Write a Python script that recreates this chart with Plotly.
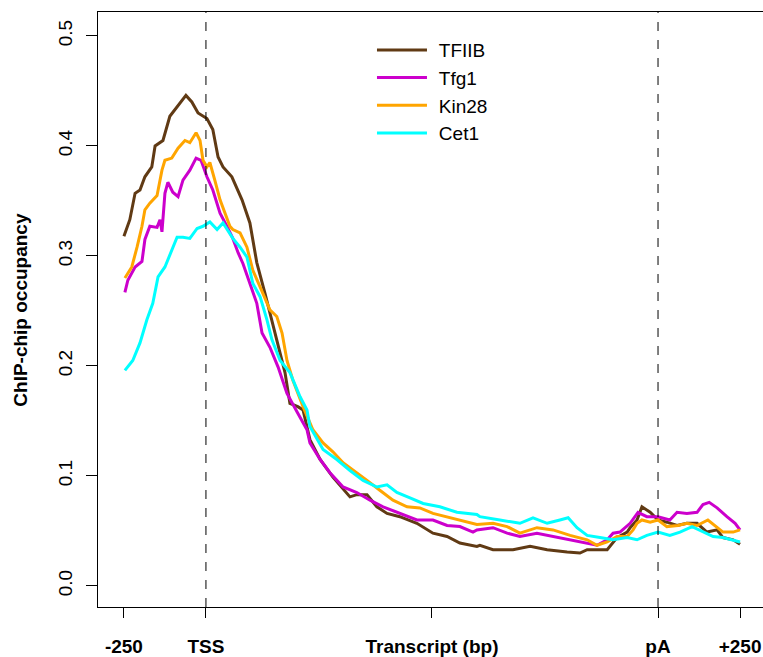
import plotly.graph_objects as go

PA = 1378  # scaled transcript end (pA) on the x axis

tfiib_x = [-250, -232, -216, -201, -186, -165, -155, -131, -110, -88, -61, -43, -24, 3, 21, 37, 52, 79, 104, 110, 134, 155, 180, 195, 216, 241, 256, 280, 296, 317, 348, 387, 439, 460, 491, 521, 552, 591, 643, 692, 735, 774, 826, 835, 875, 936, 988, 1040, 1101, 1140, 1162, 1223, 1253, 1284, 1293, 1314, 1329, 1354, 1378, 1405, 1436, 1466, 1497, 1527, 1558, 1576, 1607, 1628]
tfiib_y = [0.318, 0.333, 0.357, 0.360, 0.372, 0.381, 0.400, 0.405, 0.427, 0.436, 0.446, 0.440, 0.430, 0.425, 0.415, 0.390, 0.381, 0.372, 0.354, 0.351, 0.330, 0.294, 0.266, 0.248, 0.224, 0.194, 0.166, 0.163, 0.160, 0.133, 0.115, 0.099, 0.081, 0.083, 0.083, 0.072, 0.066, 0.063, 0.057, 0.048, 0.045, 0.039, 0.036, 0.037, 0.033, 0.033, 0.036, 0.033, 0.031, 0.030, 0.033, 0.033, 0.044, 0.049, 0.053, 0.060, 0.072, 0.067, 0.060, 0.058, 0.055, 0.057, 0.057, 0.049, 0.051, 0.044, 0.042, 0.038]

tfg1_x = [-247, -238, -216, -195, -186, -171, -149, -140, -134, -125, -116, -101, -85, -70, -49, -30, -15, 3, 21, 43, 64, 82, 98, 113, 134, 155, 171, 195, 220, 247, 280, 308, 317, 348, 378, 418, 460, 500, 540, 591, 643, 692, 735, 774, 814, 826, 875, 918, 957, 1009, 1058, 1110, 1162, 1192, 1223, 1241, 1262, 1293, 1317, 1344, 1378, 1414, 1436, 1466, 1497, 1515, 1534, 1558, 1588, 1613, 1628]
tfg1_y = [0.267, 0.278, 0.290, 0.295, 0.315, 0.327, 0.326, 0.333, 0.322, 0.357, 0.367, 0.358, 0.354, 0.369, 0.378, 0.389, 0.387, 0.372, 0.360, 0.339, 0.327, 0.316, 0.303, 0.293, 0.275, 0.257, 0.230, 0.217, 0.199, 0.175, 0.157, 0.142, 0.130, 0.115, 0.103, 0.090, 0.085, 0.078, 0.072, 0.066, 0.060, 0.060, 0.055, 0.054, 0.049, 0.051, 0.053, 0.048, 0.045, 0.048, 0.045, 0.042, 0.039, 0.037, 0.042, 0.048, 0.049, 0.057, 0.067, 0.063, 0.063, 0.060, 0.067, 0.066, 0.067, 0.074, 0.076, 0.071, 0.063, 0.057, 0.051]

kin28_x = [-247, -226, -210, -195, -186, -171, -149, -134, -125, -104, -85, -64, -49, -30, -18, -9, 3, 12, 27, 43, 58, 73, 82, 104, 125, 143, 165, 195, 216, 232, 247, 265, 296, 326, 357, 387, 418, 460, 491, 530, 570, 613, 652, 692, 735, 774, 826, 875, 918, 957, 1009, 1058, 1110, 1162, 1192, 1223, 1253, 1284, 1302, 1314, 1329, 1354, 1378, 1405, 1439, 1466, 1497, 1530, 1552, 1576, 1607, 1628]
kin28_y = [0.280, 0.290, 0.308, 0.327, 0.342, 0.348, 0.355, 0.378, 0.387, 0.389, 0.398, 0.405, 0.403, 0.412, 0.405, 0.387, 0.381, 0.385, 0.369, 0.351, 0.339, 0.327, 0.324, 0.321, 0.308, 0.287, 0.272, 0.251, 0.245, 0.230, 0.205, 0.187, 0.163, 0.142, 0.130, 0.122, 0.112, 0.103, 0.096, 0.087, 0.078, 0.072, 0.071, 0.066, 0.063, 0.060, 0.056, 0.057, 0.054, 0.048, 0.053, 0.051, 0.046, 0.042, 0.037, 0.040, 0.045, 0.045, 0.051, 0.057, 0.060, 0.058, 0.060, 0.054, 0.055, 0.057, 0.055, 0.060, 0.055, 0.049, 0.049, 0.051]

cet1_x = [-247, -223, -201, -180, -162, -146, -125, -104, -88, -70, -49, -27, -9, 12, 34, 52, 73, 82, 104, 125, 143, 165, 186, 201, 226, 256, 287, 308, 317, 357, 399, 439, 479, 521, 552, 582, 622, 662, 713, 765, 826, 835, 896, 957, 997, 1040, 1079, 1104, 1131, 1162, 1201, 1241, 1284, 1314, 1344, 1378, 1414, 1445, 1482, 1515, 1546, 1576, 1607, 1628]
cet1_y = [0.196, 0.205, 0.221, 0.242, 0.257, 0.281, 0.290, 0.305, 0.317, 0.317, 0.316, 0.325, 0.327, 0.331, 0.324, 0.330, 0.321, 0.316, 0.308, 0.299, 0.275, 0.263, 0.242, 0.224, 0.205, 0.194, 0.172, 0.160, 0.145, 0.124, 0.115, 0.105, 0.096, 0.090, 0.092, 0.085, 0.080, 0.075, 0.072, 0.067, 0.065, 0.063, 0.060, 0.057, 0.062, 0.057, 0.060, 0.062, 0.053, 0.046, 0.044, 0.042, 0.044, 0.042, 0.046, 0.049, 0.046, 0.049, 0.054, 0.049, 0.045, 0.044, 0.042, 0.040]

series_names = ["TFIIB", "Tfg1", "Kin28", "Cet1"]
series_colors = ["#603A14", "#CC00CC", "#FFA500", "#00FFFF"]

tick_vals = [-250, 0, PA / 2, PA, PA + 250]
tick_text = ["-250", "TSS", "Transcript (bp)", "pA", "+250"]
y_ticks = [0.0, 0.1, 0.2, 0.3, 0.4, 0.5]

xs = [tfiib_x, tfg1_x, kin28_x, cet1_x]
ys = [tfiib_y, tfg1_y, kin28_y, cet1_y]

fig = go.Figure()
for name, col, x, y in zip(series_names, series_colors, xs, ys):
    fig.add_trace(go.Scatter(x=x, y=y, mode="lines", name="\u00a0\u200a" + name,
                             line=dict(color=col, width=3)))

for v in [0, PA]:
    fig.add_shape(type="line", xref="x", yref="paper", x0=v, x1=v, y0=0, y1=1,
                  line=dict(color="black", width=1, dash="dash"))

font_family = "Liberation Sans, Arial, sans-serif"
fig.update_layout(
    width=763, height=657,
    margin=dict(l=98, r=0, t=12, b=50),
    plot_bgcolor="white", paper_bgcolor="white",
    font=dict(family=font_family, color="black"),
    showlegend=True,
    legend=dict(x=0.412, y=0.968, xanchor="left", yanchor="top",
                bgcolor="rgba(0,0,0,0)", font=dict(size=19, family=font_family),
                itemwidth=50, tracegroupgap=0),
    xaxis=dict(range=[-329, 1698], tickmode="array", tickvals=tick_vals,
               ticktext=["<b>%s</b>" % t for t in tick_text],
               ticks="outside", ticklen=10, tickcolor="black",
               showline=True, linecolor="black", linewidth=1, mirror=True,
               showgrid=False, zeroline=False, tickfont=dict(size=19),
               ticklabelstandoff=12),
    yaxis=dict(range=[-0.0191, 0.5218], tickmode="array", tickvals=y_ticks,
               ticktext=["%.1f" % v for v in y_ticks], tickangle=-90,
               ticks="outside", ticklen=11, tickcolor="black",
               showline=True, linecolor="black", linewidth=1, mirror=True,
               showgrid=False, zeroline=False, tickfont=dict(size=19),
               ticklabelstandoff=6),
    annotations=[dict(text="<b>ChIP-chip occupancy</b>", xref="paper", yref="paper",
                      x=-0.117, y=0.5, xanchor="center", yanchor="middle",
                      textangle=-90, showarrow=False, font=dict(size=19))],
)

fig.write_html("out.html")
